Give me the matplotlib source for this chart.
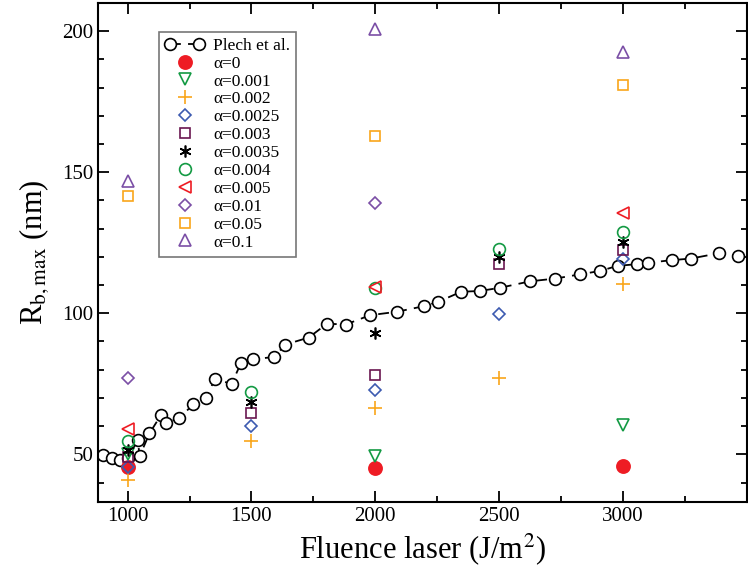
import matplotlib
matplotlib.use("Agg")
import matplotlib.pyplot as plt
from matplotlib.legend_handler import HandlerLine2D
import numpy as np

plt.rcParams['font.family'] = ['Liberation Serif', 'DejaVu Serif']
plt.rcParams['mathtext.fontset'] = 'stix'

# Plech et al. reference curve
plech_x = [900, 935, 968, 1000, 1041, 1048, 1088, 1135, 1153, 1209, 1265, 1316,
           1352, 1420, 1458, 1507, 1592, 1637, 1732, 1805, 1881, 1979, 2086,
           2197, 2253, 2347, 2423, 2503, 2625, 2728, 2829, 2909, 2979, 3059,
           3103, 3197, 3277, 3390, 3464]
plech_y = [49.6, 48.6, 48.0, 48.6, 55.0, 49.3, 57.4, 64.0, 61.0, 62.9, 67.7, 70.0,
           76.6, 75.0, 82.4, 83.7, 84.5, 88.9, 91.4, 96.3, 96.0, 99.3, 100.5,
           102.5, 104.0, 107.6, 107.9, 109.0, 111.3, 112.3, 113.8, 115.0, 116.8,
           117.4, 117.9, 118.8, 119.4, 121.3, 120.4]

# simulation results per alpha
alpha_labels = ['0', '0.001', '0.002', '0.0025', '0.003', '0.0035',
                '0.004', '0.005', '0.01', '0.05', '0.1']
sim_x = {
    '0': [1000, 2000, 3000],
    '0.001': [1000, 2000, 3000],
    '0.002': [1000, 1500, 2000, 2500, 3000],
    '0.0025': [1000, 1500, 2000, 2500, 3000],
    '0.003': [1000, 1500, 2000, 2500, 3000],
    '0.0035': [1000, 1500, 2000, 2500, 3000],
    '0.004': [1000, 1500, 2000, 2500, 3000],
    '0.005': [1000, 2000, 3000],
    '0.01': [1000, 2000],
    '0.05': [1000, 2000, 3000],
    '0.1': [1000, 2000, 3000],
}
sim_y = {
    '0': [45.5, 45.0, 45.7],
    '0.001': [50.0, 49.3, 60.3],
    '0.002': [41.0, 54.6, 66.3, 77.0, 110.5],
    '0.0025': [45.5, 60.0, 72.7, 99.6, 119.4],
    '0.003': [49.0, 64.5, 78.0, 117.6, 122.3],
    '0.0035': [51.4, 68.4, 92.9, 119.9, 125.3],
    '0.004': [54.7, 72.1, 108.9, 122.7, 128.8],
    '0.005': [58.9, 109.3, 135.4],
    '0.01': [77.0, 138.9],
    '0.05': [141.5, 162.9, 180.9],
    '0.1': [146.8, 200.7, 192.7],
}

styles = {
    '0': dict(marker='o', color='#ee1c24', filled=True, ms=9.5),
    '0.001': dict(marker='v', color='#139a43', filled=False, ms=8.5),
    '0.002': dict(marker='+', color='#f9a61a', filled=True, ms=10),
    '0.0025': dict(marker='D', color='#3c5ab0', filled=False, ms=6),
    '0.003': dict(marker='s', color='#6a1650', filled=False, ms=7.5),
    '0.0035': dict(marker=(6, 2, 0), color='black', filled=True, ms=8.5),
    '0.004': dict(marker='o', color='#139a43', filled=False, ms=8.5),
    '0.005': dict(marker='<', color='#ee1c24', filled=False, ms=8.5),
    '0.01': dict(marker='D', color='#7b4fa6', filled=False, ms=6),
    '0.05': dict(marker='s', color='#f9a61a', filled=False, ms=7.5),
    '0.1': dict(marker='^', color='#7b4fa6', filled=False, ms=8.5),
}

fig = plt.figure(figsize=(7.48, 5.76), dpi=100)
ax = fig.add_axes([0.131, 0.128, 0.867, 0.867])

plech_line, = ax.plot(plech_x, plech_y, color='black', linestyle=(0, (6, 4)), lw=1.3,
                      marker='o', ms=8.5, mfc='white', mec='black', mew=1.2,
                      label='Plech et al.')

hmap = {plech_line: HandlerLine2D(numpoints=2)}
for a in alpha_labels:
    st = styles[a]
    if st['filled']:
        ln, = ax.plot(sim_x[a], sim_y[a], linestyle='none', marker=st['marker'],
                      ms=st['ms'], color=st['color'], mew=1.2, label='α=' + a)
    else:
        ln, = ax.plot(sim_x[a], sim_y[a], linestyle='none', marker=st['marker'],
                      ms=st['ms'], mfc='none', mec=st['color'], mew=1.2, label='α=' + a)
    hmap[ln] = HandlerLine2D(numpoints=1)

ax.set_xlim(880, 3500)
ax.set_ylim(33, 210)
ax.set_xticks([1000, 1500, 2000, 2500, 3000])
ax.set_xticks(np.arange(1250, 3500, 500), minor=True)
ax.set_yticks([50, 100, 150, 200])
ax.set_yticks(np.arange(40, 211, 10), minor=True)
ax.tick_params(which='both', direction='in', top=True, right=True, labelsize=15)
ax.tick_params(which='major', length=8, width=1.3)
ax.tick_params(which='minor', length=4.5, width=1.3)
for s in ax.spines.values():
    s.set_linewidth(1.5)

ax.set_xlabel('Fluence laser (J/m$^2$)', fontsize=22, labelpad=4)
ax.set_ylabel(r'R$_{\mathrm{b,max}}$ (nm)', fontsize=22, labelpad=8)

leg = ax.legend(loc='upper left', bbox_to_anchor=(0.08, 0.96), fontsize=12.5,
                frameon=True, fancybox=False, edgecolor='#555555',
                handler_map=hmap, handlelength=2.3, handletextpad=0.5,
                labelspacing=0.1, borderpad=0.35)
leg.get_frame().set_linewidth(1.2)

fig.savefig('out.png', dpi=100)
